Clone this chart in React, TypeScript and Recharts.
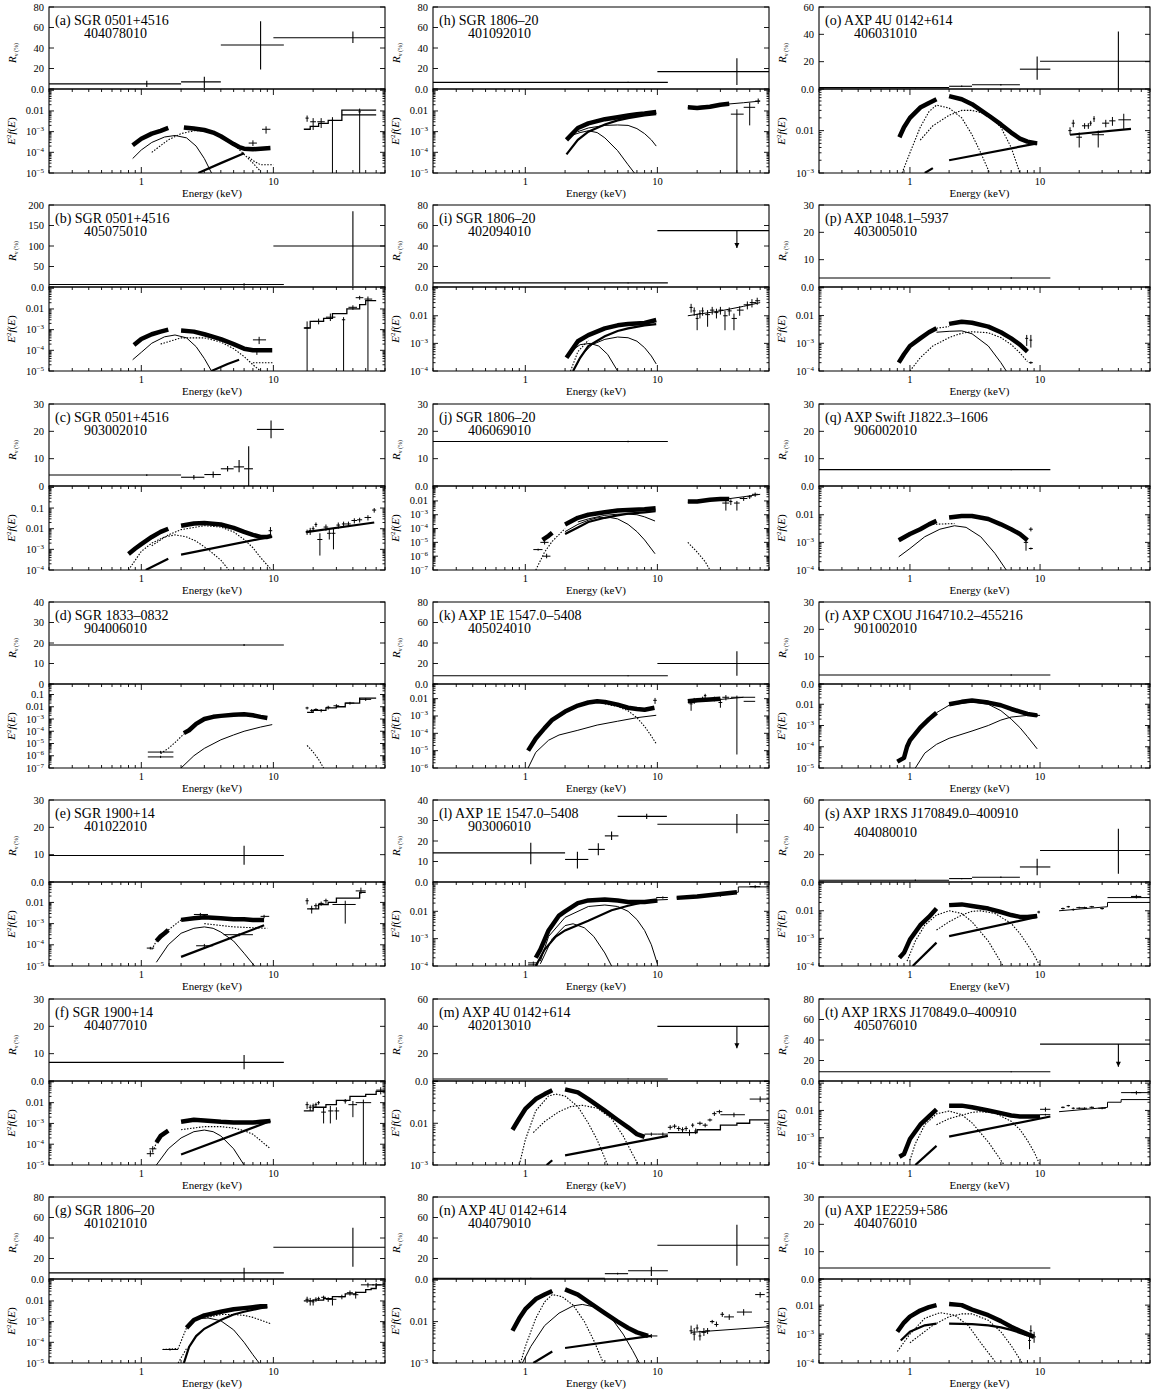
import React from 'react';
import { ComposedChart, Line, Scatter, ErrorBar, XAxis, YAxis, ReferenceArea } from 'recharts';

type Pt = [number, number];
// R_v bins: [Elo, Ehi, E, Rv, RvLo, RvHi]
type Bin = [number, number, number, number, number, number];
// spectral crosses: [E, F, Flo, Fhi, Elo, Ehi]
type Cross = [number, number, number, number, number, number];

const energyTicks = [0.2, 0.3, 0.4, 0.5, 0.6, 0.7, 0.8, 0.9, 1, 2, 3, 4, 5, 6, 7, 8, 9, 10, 20, 30, 40, 50, 60, 70];
const energyLabels = [1, 10];

const panelNames = [
  '(a) SGR 0501+4516', '(b) SGR 0501+4516', '(c) SGR 0501+4516', '(d) SGR 1833–0832',
  '(e) SGR 1900+14', '(f) SGR 1900+14', '(g) SGR 1806–20',
  '(h) SGR 1806–20', '(i) SGR 1806–20', '(j) SGR 1806–20', '(k) AXP 1E 1547.0–5408',
  '(l) AXP 1E 1547.0–5408', '(m) AXP 4U 0142+614', '(n) AXP 4U 0142+614',
  '(o) AXP 4U 0142+614', '(p) AXP 1048.1–5937', '(q) AXP Swift J1822.3–1606',
  '(r) AXP CXOU J164710.2–455216', '(s) AXP 1RXS J170849.0–400910',
  '(t) AXP 1RXS J170849.0–400910', '(u) AXP 1E2259+586',
];
const obsIds = [
  '404078010', '405075010', '903002010', '904006010', '401022010', '404077010', '401021010',
  '401092010', '402094010', '406069010', '405024010', '903006010', '402013010', '404079010',
  '406031010', '403005010', '906002010', '901002010', '404080010', '405076010', '404076010',
];
const obsShift = [0, 0, 0, 0, 0, 0, 0, 0, 0, 0, 0, 0, 0, 0, 0, 0, 0, 0, 6, 0, 0];
const rvMaxes = [80, 200, 30, 40, 30, 30, 80, 80, 80, 30, 80, 40, 60, 80, 60, 30, 30, 30, 60, 80, 30];
const rvSteps = [20, 50, 10, 10, 10, 10, 20, 20, 20, 10, 20, 10, 20, 20, 20, 10, 10, 10, 20, 20, 10];
const rvZero = ['0.0', '0.0', '0', '0', '0.0', '0.0', '0.0', '0.0', '0.0', '0.0', '0.0', '0.0', '0.0', '0.0', '0.0', '0.0', '0.0', '0.0', '0.0', '0.0', '0.0'];
const fluxLows = [1e-5, 1e-5, 1e-4, 1e-7, 1e-5, 1e-5, 1e-5, 1e-5, 1e-4, 1e-7, 1e-6, 1e-4, 1e-3, 1e-3, 1e-3, 1e-4, 1e-4, 1e-5, 1e-4, 1e-4, 1e-4];
const fluxHighs = [0.115, 0.115, 1.17, 0.72, 0.092, 0.11, 0.115, 0.115, 0.11, 0.12, 0.07, 0.118, 0.103, 0.107, 0.096, 0.107, 0.11, 0.09, 0.11, 0.12, 0.08];

// ---- (a)
const rvA: Bin[] = [[0.2, 2, 1.1, 5, 2, 8], [2, 4, 3, 7, 1, 12], [4, 12, 8, 43, 19, 66], [10, 70, 40, 50, 45, 56]];
const xisA: Pt[][] = [
  [[0.86, 2.2e-4], [1, 4.5e-4], [1.2, 8e-4], [1.4, 1.1e-3], [1.6, 1.5e-3]],
  [[2.1, 1.6e-3], [2.5, 1.4e-3], [3, 1.2e-3], [3.5, 9e-4], [4, 6e-4], [4.5, 3.8e-4], [5, 2.5e-4], [5.5, 1.8e-4], [6, 1.5e-4], [7, 1.4e-4], [8, 1.5e-4], [9.5, 1.6e-4]],
];
const crsA: Cross[] = [[7, 2.8e-4, 2e-4, 3.8e-4, 6.5, 7.5], [8.8, 1.3e-3, 8e-4, 1.8e-3, 8.2, 9.5], [18, 4.5e-3, 3e-3, 6e-3, 17.5, 18.5], [20, 3e-3, 1.2e-3, 4.5e-3, 19, 21], [23, 3e-3, 1.5e-3, 4.5e-3, 21.5, 24.5], [28, 3.5e-3, 1e-5, 5e-3, 27.5, 28.5], [45, 9e-3, 1e-5, 1.3e-2, 44, 46]];
const solA: Pt[][] = [[[0.86, 5e-5], [1, 1.3e-4], [1.2, 3e-4], [1.5, 5.5e-4], [1.8, 6.5e-4], [2.2, 5e-4], [2.6, 2e-4], [3, 5e-5], [3.4, 1e-5]]];
const dotA: Pt[][] = [[[1.2, 1e-4], [1.6, 4e-4], [2, 8e-4], [2.5, 1.1e-3], [3, 1.1e-3], [4, 6e-4], [5, 2.5e-4], [6, 8e-5], [7, 3e-5], [8, 1.2e-5]], [[6.5, 6e-5], [7, 4e-5], [8, 2.5e-5], [10, 2.5e-5]]];
const thkA: Pt[][] = [[[2.7, 1e-5], [4, 3e-5], [6, 9e-5]]];
const stpA: Pt[][] = [[[17, 1.3e-3], [19, 1.8e-3], [22, 2.5e-3], [26, 3.5e-3], [33, 1.1e-2], [60, 1.1e-2]], [[33, 6.5e-3], [60, 6.5e-3]]];

// ---- (b)
const rvB: Bin[] = [[0.2, 12, 6, 6, 3, 9], [10, 70, 40, 100, 2, 185]];
const xisB: Pt[][] = [
  [[0.88, 1.8e-4], [1, 3.5e-4], [1.2, 6e-4], [1.4, 8e-4], [1.6, 1e-3]],
  [[2, 9e-4], [2.5, 8e-4], [3, 6e-4], [4, 3.5e-4], [5, 2e-4], [6, 1.2e-4], [7, 1e-4], [8, 1e-4], [9.8, 1e-4]],
];
const crsB: Cross[] = [[7.8, 3.2e-4, 2e-4, 4.5e-4, 7, 8.8], [7.5, 9e-5, 6e-5, 1.2e-4, 7, 8], [18, 1.2e-3, 1e-5, 2.5e-3, 17.3, 18.7], [22, 2.5e-3, 1.8e-3, 3.4e-3, 20, 24], [27, 4e-3, 2.6e-3, 6e-3, 25, 29.5], [34, 3e-3, 1e-5, 4e-3, 33, 35], [40, 1.2e-2, 9e-3, 1.5e-2, 37, 43], [45, 3.5e-2, 2.8e-2, 4.3e-2, 42, 48], [52, 3e-2, 1e-5, 4e-2, 49, 56]];
const solB: Pt[][] = [[[0.86, 3.5e-5], [1, 8e-5], [1.2, 2.2e-4], [1.5, 4.5e-4], [1.8, 5.5e-4], [2.2, 4e-4], [2.6, 1.5e-4], [3, 4e-5], [3.4, 1e-5]]];
const dotB: Pt[][] = [[[1.4, 2e-4], [2, 4e-4], [3, 4e-4], [4, 2.5e-4], [5, 1.2e-4], [6, 5e-5], [7, 2e-5], [8, 1e-5]], [[7, 2.5e-5], [10, 2.5e-5]]];
const thkB: Pt[][] = [[[3.4, 1e-5], [4.5, 2.2e-5], [5.5, 3.5e-5]]];
const stpB: Pt[][] = [[[17, 1.2e-3], [19, 2.5e-3], [24, 3.5e-3], [28, 6e-3], [36, 1e-2], [45, 1.6e-2], [50, 2.5e-2], [60, 2.5e-2]]];

// ---- (c)
const rvC: Bin[] = [[0.2, 2, 1.1, 4, 3.7, 4.3], [2, 3, 2.5, 3.2, 2.4, 4], [3, 4, 3.5, 4.2, 3, 5.3], [4, 5, 4.5, 6.3, 5.3, 7.3], [5, 6, 5.5, 7, 5, 9.5], [6, 7, 6.5, 6.3, 0, 14.5], [7.5, 12, 9.6, 20.7, 17.5, 24]];
const xisC: Pt[][] = [
  [[0.8, 6e-4], [0.9, 1.1e-3], [1, 1.8e-3], [1.2, 4e-3], [1.4, 7e-3], [1.6, 1e-2]],
  [[2, 1.4e-2], [2.5, 1.8e-2], [3, 1.9e-2], [4, 1.6e-2], [5, 1.1e-2], [6, 7e-3], [7, 5e-3], [8, 4e-3], [9, 4e-3], [9.7, 4.5e-3]],
];
const crsC: Cross[] = [[9.5, 8e-3, 4e-3, 1.2e-2, 9.2, 9.8], [18, 7e-3, 5e-3, 9e-3, 17.5, 18.5], [19, 8e-3, 5e-3, 1.1e-2, 18.5, 19.5], [20, 1e-2, 7e-3, 1.3e-2, 19.5, 20.5], [21, 1.6e-2, 1.2e-2, 2e-2, 20.5, 21.5], [22.5, 3e-3, 5e-4, 6e-3, 21.5, 23.5], [25, 1.2e-2, 8e-3, 1.6e-2, 24, 26], [26.5, 6e-3, 3e-3, 1e-2, 25.5, 27.5], [28.5, 6e-3, 1e-3, 1e-2, 27.5, 29.5], [31, 1.5e-2, 1e-2, 2e-2, 30, 32], [34, 1.7e-2, 1.2e-2, 2.2e-2, 33, 35.5], [37, 1.7e-2, 1.2e-2, 2.2e-2, 35.5, 38.5], [41, 2.5e-2, 1.8e-2, 3.2e-2, 39, 43], [45, 2.7e-2, 2e-2, 3.4e-2, 43, 47], [52, 3.5e-2, 2.5e-2, 4.5e-2, 49, 55], [58, 8e-2, 6e-2, 1e-1, 56, 60]];
const dotC: Pt[][] = [
  [[0.8, 1e-4], [1, 8e-4], [1.2, 2e-3], [1.5, 4e-3], [1.8, 5e-3], [2.2, 4e-3], [2.6, 2.5e-3], [3.2, 1e-3], [4, 3e-4], [4.6, 1e-4]],
  [[1.2, 1.5e-3], [1.6, 5e-3], [2, 9e-3], [3, 1.4e-2], [4, 1.2e-2], [5, 7e-3], [6, 3e-3], [7, 1.2e-3], [8, 4e-4], [9.7, 1e-4]],
];
const thkC: Pt[][] = [[[1.08, 1e-4], [1.6, 3.5e-4]], [[2, 5.6e-4], [9.8, 4.2e-3]], [[17.7, 6.8e-3], [58, 2e-2]]];

// ---- (d)
const rvD: Bin[] = [[0.2, 12, 6, 19, 18.5, 19.5]];
const xisD: Pt[][] = [[[2.1, 7e-5], [2.3, 1.2e-4], [2.6, 4e-4], [3, 1e-3], [3.5, 1.5e-3], [4, 1.8e-3], [5, 2.2e-3], [6, 2.4e-3], [7, 2e-3], [8, 1.5e-3], [9, 1.2e-3]]];
const crsD: Cross[] = [[1.4, 2e-6, 1.6e-6, 2.5e-6, 1.12, 1.75], [1.4, 8e-7, 6.5e-7, 1e-6, 1.12, 1.75], [18, 8e-3, 6e-3, 1e-2, 17.5, 18.5], [19.5, 5e-3, 3.5e-3, 6.5e-3, 19, 20], [21, 6e-3, 4.5e-3, 7.5e-3, 20.2, 21.8], [23, 5e-3, 3.5e-3, 6.5e-3, 22, 24], [26, 9e-3, 6e-3, 1.2e-2, 25, 27], [30, 1.2e-2, 8e-3, 1.6e-2, 28.5, 31.5], [38, 2e-2, 1.5e-2, 2.5e-2, 35, 41], [50, 4e-2, 3e-2, 5e-2, 45, 55]];
const solD: Pt[][] = [[[2, 1e-7], [2.5, 1e-6], [3, 4e-6], [4, 2e-5], [5, 5e-5], [6, 1e-4], [8, 2.2e-4], [9.8, 3.5e-4]]];
const dotD: Pt[][] = [[[1.4, 1.5e-6], [1.6, 4e-6], [1.8, 1.2e-5], [2.1, 6e-5]], [[18, 7e-6], [20, 2e-6], [22, 5e-7], [24, 1e-7]]];
const stpD: Pt[][] = [[[18, 3.5e-3], [20, 5e-3], [25, 8e-3], [30, 1e-2], [35, 2e-2], [45, 5e-2], [60, 5e-2]]];

// ---- (e)
const rvE: Bin[] = [[0.2, 12, 6, 9.7, 6.3, 13.3]];
const xisE: Pt[][] = [
  [[1.3, 1.5e-4], [1.4, 2.5e-4], [1.5, 3.5e-4], [1.6, 5e-4]],
  [[2, 1.5e-3], [2.5, 1.8e-3], [3, 2e-3], [4, 1.8e-3], [5, 1.6e-3], [6, 1.6e-3], [7, 1.5e-3], [8.5, 1.5e-3]],
];
const crsE: Cross[] = [[1.17, 7e-5, 6e-5, 8e-5, 1.1, 1.25], [2.8, 2.7e-3, 2.2e-3, 3.2e-3, 2.5, 3.2], [3, 9e-5, 7e-5, 1.1e-4, 2.6, 3.5], [5.5, 3e-4, 2.5e-4, 3.6e-4, 4.2, 7], [8.5, 2.2e-3, 1.8e-3, 2.6e-3, 8, 9.3], [18, 1.2e-2, 8e-3, 1.6e-2, 17.5, 18.5], [19.5, 5e-3, 3e-3, 7e-3, 19, 20], [21, 7e-3, 5e-3, 9e-3, 20.3, 21.7], [23, 9e-3, 7e-3, 1.1e-2, 22, 24], [25, 1.2e-2, 9e-3, 1.5e-2, 24, 26], [35, 8e-3, 1e-3, 1.2e-2, 28, 42], [46, 3.5e-2, 2.5e-2, 5e-2, 42, 50]];
const solE: Pt[][] = [[[1.3, 1.5e-5], [1.6, 1e-4], [2, 3.5e-4], [2.5, 6e-4], [3, 7e-4], [3.5, 6e-4], [4, 4e-4], [5, 1.5e-4], [6, 4e-5], [7.2, 1e-5]]];
const dotE: Pt[][] = [[[1.2, 6e-5], [1.3, 1.5e-4]], [[3, 1e-3], [5, 7e-4], [9, 6e-4]], [[1.6, 5e-4], [2, 1.5e-3]]];
const thkE: Pt[][] = [[[2, 2.7e-5], [8.5, 8.3e-4]]];
const stpE: Pt[][] = [[[18, 5e-3], [22, 8e-3], [26, 1e-2], [30, 1.6e-2], [45, 3e-2], [50, 3e-2]]];

// ---- (f)
const rvF: Bin[] = [[0.2, 12, 6, 6.8, 4.3, 9.5]];
const xisF: Pt[][] = [
  [[1.3, 1.2e-4], [1.4, 2.5e-4], [1.6, 4.5e-4]],
  [[2, 1.2e-3], [2.5, 1.5e-3], [3, 1.4e-3], [4, 1.2e-3], [5, 1.1e-3], [6, 1.1e-3], [7, 1.1e-3], [8, 1.2e-3], [9.5, 1.3e-3]],
];
const crsF: Cross[] = [[1.17, 3.5e-5, 2.5e-5, 5e-5, 1.1, 1.25], [1.22, 6e-5, 4e-5, 8e-5, 1.15, 1.3], [18, 8e-3, 5e-3, 1.1e-2, 17.5, 18.5], [19, 6e-3, 4e-3, 8e-3, 18.5, 19.5], [20, 7e-3, 5e-3, 9e-3, 19.5, 20.5], [21, 8e-3, 6e-3, 1e-2, 20.5, 21.5], [22, 1e-2, 8e-3, 1.2e-2, 21.5, 22.5], [24, 3.5e-3, 1e-3, 6e-3, 23, 25], [27, 4e-3, 1e-3, 7e-3, 26, 28.5], [30, 4e-3, 1.5e-3, 6e-3, 29, 31.5], [35, 1.2e-2, 9e-3, 1.5e-2, 34, 36], [40, 8e-3, 2e-3, 1.2e-2, 37, 43], [48, 1e-2, 1e-5, 1.4e-2, 42, 55], [65, 4e-2, 2.5e-2, 5.5e-2, 60, 70]];
const solF: Pt[][] = [[[1.3, 1e-5], [1.6, 6e-5], [2, 2e-4], [2.5, 4e-4], [3, 4.8e-4], [3.5, 4e-4], [4, 2.5e-4], [5, 6e-5], [6, 1e-5]]];
const dotF: Pt[][] = [[[2, 5e-4], [3, 7e-4], [4, 7e-4], [5, 6e-4], [6, 4.5e-4], [7, 3e-4], [8, 1.5e-4], [9.5, 6e-5]], [[1.25, 6e-5], [1.3, 1.2e-4]]];
const thkF: Pt[][] = [[[2, 3.2e-5], [9.5, 1.3e-3]]];
const stpF: Pt[][] = [[[17, 4e-3], [20, 6e-3], [25, 8e-3], [30, 1.3e-2], [38, 2e-2], [50, 2.5e-2], [60, 3.5e-2], [70, 3.5e-2]]];

// ---- (g)
const rvG: Bin[] = [[0.2, 12, 6, 6, 0.5, 11], [10, 70, 40, 31, 12, 50]];
const xisG: Pt[][] = [[[2.2, 5e-4], [2.5, 1.2e-3], [3, 2e-3], [4, 3e-3], [5, 4e-3], [6, 4.5e-3], [7, 5e-3], [8, 5.5e-3], [9, 5.5e-3]]];
const crsG: Cross[] = [[1.65, 4.5e-5, 4e-5, 5e-5, 1.45, 1.9], [18, 1.2e-2, 8e-3, 1.6e-2, 17.5, 18.5], [19, 1e-2, 6e-3, 1.4e-2, 18.5, 19.5], [20, 9e-3, 6e-3, 1.2e-2, 19.5, 20.5], [21, 1.2e-2, 9e-3, 1.5e-2, 20.5, 21.5], [22, 1.3e-2, 1e-2, 1.6e-2, 21.5, 22.5], [24, 1.5e-2, 1.2e-2, 1.8e-2, 23, 25], [26, 1.2e-2, 9e-3, 1.5e-2, 25, 27], [28, 1.2e-2, 6e-3, 1.6e-2, 26.5, 30], [33, 1.6e-2, 1.2e-2, 2e-2, 31, 35], [38, 2.5e-2, 1.8e-2, 3.2e-2, 36, 40], [42, 2e-2, 1.3e-2, 2.8e-2, 40, 44], [52, 6e-2, 4.5e-2, 7.5e-2, 46, 58], [60, 6e-2, 4.5e-2, 7.5e-2, 56, 65]];
const solG: Pt[][] = [[[2.3, 9e-4], [2.7, 1.4e-3], [3.2, 1.5e-3], [4, 1.1e-3], [5, 4e-4], [6, 1e-4], [7, 2.5e-5], [7.8, 1e-5]]];
const dotG: Pt[][] = [[[1.45, 4.5e-5], [1.9, 5e-5], [2.2, 5e-4]], [[1.9, 1e-5], [2.2, 5e-5]], [[3, 1.5e-3], [4, 2.2e-3], [5, 2.2e-3], [6, 2e-3], [7, 1.6e-3], [8, 1.2e-3], [9.5, 8e-4]]];
const thkG: Pt[][] = [[[2.1, 1e-5], [2.3, 6e-5], [2.6, 2e-4], [3, 4.5e-4], [4, 1.2e-3], [5, 2.2e-3], [6, 3e-3], [8, 4.5e-3], [9, 5e-3]]];
const stpG: Pt[][] = [[[17, 1e-2], [20, 1.1e-2], [24, 1.3e-2], [28, 1.6e-2], [35, 2.2e-2], [42, 2.6e-2], [50, 3.5e-2], [55, 4e-2], [60, 6e-2], [70, 6e-2]]];

// ---- (h)
const rvH: Bin[] = [[0.2, 12, 6, 6.5, 6, 7], [10, 70, 40, 17, 4, 30]];
const xisH: Pt[][] = [
  [[2.05, 4e-4], [2.5, 1.5e-3], [3, 2.5e-3], [4, 4e-3], [5, 5e-3], [6, 6e-3], [7, 7e-3], [8, 7.5e-3], [9.8, 9e-3]],
  [[17, 1.5e-2], [20, 1.4e-2], [25, 1.6e-2], [30, 2e-2], [35, 2.2e-2]],
];
const crsH: Cross[] = [[40, 7e-3, 1e-5, 1.2e-2, 36, 45], [50, 1.5e-2, 2e-3, 2.5e-2, 45, 55], [58, 3e-2, 2.2e-2, 4e-2, 55, 60]];
const solH: Pt[][] = [
  [[2.3, 7e-4], [2.6, 9e-4], [3, 1.1e-3], [3.5, 9e-4], [4, 5e-4], [5, 1.2e-4], [6, 2.5e-5], [6.7, 1e-5]],
  [[2.5, 1e-3], [3, 1.5e-3], [4, 2e-3], [5, 2.1e-3], [6, 2e-3], [7, 1.4e-3], [8, 8e-4], [9, 4e-4], [9.8, 2e-4]],
  [[17, 1.5e-2], [30, 2e-2], [45, 2.5e-2], [60, 3e-2]],
];
const thkH: Pt[][] = [[[2.05, 8e-5], [2.5, 4e-4], [3, 1e-3], [4, 2.2e-3], [5, 3.5e-3], [6, 4.5e-3], [8, 6e-3], [9.8, 7e-3]]];

// ---- (i)
const rvI: Bin[] = [[0.2, 12, 6, 4, 3.5, 4.5], [10, 70, 40, 55, 38, 55]];
const ulI: Pt[] = [[40, 38]];
const xisI: Pt[][] = [[[2.05, 3e-4], [2.5, 1.2e-3], [3, 2e-3], [4, 3.5e-3], [5, 4.5e-3], [6, 5e-3], [8, 5.5e-3], [9.8, 7e-3]]];
const crsI: Cross[] = [[18, 2e-2, 1.3e-2, 2.7e-2, 17.5, 18.5], [19, 1.5e-2, 1e-2, 2e-2, 18.5, 19.5], [20, 8e-3, 3e-3, 1.2e-2, 19.5, 20.5], [21, 1.2e-2, 8e-3, 1.6e-2, 20.5, 21.5], [22, 1.5e-2, 1e-2, 2e-2, 21.5, 22.5], [24, 1.1e-2, 4e-3, 1.6e-2, 23, 25], [26, 1.6e-2, 1.1e-2, 2.1e-2, 25, 27], [28, 1.3e-2, 8e-3, 1.8e-2, 27, 29], [30, 1.6e-2, 1.1e-2, 2.1e-2, 29, 31.5], [32.5, 1e-2, 3e-3, 1.5e-2, 31.5, 34], [35, 1.5e-2, 1e-2, 2e-2, 34, 36.5], [38, 8e-3, 3e-3, 1.2e-2, 36.5, 40], [42, 1.6e-2, 1e-2, 2.2e-2, 40, 45], [48, 2.5e-2, 1.7e-2, 3.3e-2, 45, 51], [52, 3e-2, 2e-2, 4e-2, 50, 56], [57, 3.5e-2, 2.5e-2, 4.5e-2, 55, 60]];
const solI: Pt[][] = [
  [[2.2, 5e-4], [2.6, 9e-4], [3.1, 1e-3], [3.6, 8e-4], [4.2, 4e-4], [5, 1e-4]],
  [[2.3, 1e-4], [2.7, 4e-4], [3.2, 9e-4], [4, 1.4e-3], [5, 1.7e-3], [6, 1.6e-3], [7, 1.2e-3], [8, 7e-4], [9, 3.5e-4], [9.8, 1.8e-4]],
  [[17, 1e-2], [30, 1.5e-2], [45, 2.2e-2], [60, 3e-2]],
];
const dotI: Pt[][] = [[[2.2, 1e-4], [2.5, 5e-4], [3, 1.3e-3]]];
const thkI: Pt[][] = [[[2.3, 1e-4], [2.6, 3e-4], [3, 8e-4], [4, 1.8e-3], [5, 2.8e-3], [6, 3.5e-3], [8, 4.5e-3], [9.8, 5e-3]]];

// ---- (j)
const rvJ: Bin[] = [[0.2, 12, 6, 16.3, 16, 16.6]];
const xisJ: Pt[][] = [
  [[1.35, 1.5e-5], [1.5, 3e-5], [1.6, 5e-5]],
  [[2, 2e-4], [2.5, 6e-4], [3, 1e-3], [4, 1.5e-3], [5, 2e-3], [6, 2.2e-3], [8, 2.5e-3], [9.7, 3e-3]],
  [[17, 9e-3], [20, 9e-3], [25, 1.2e-2], [30, 1.4e-2], [35, 1.4e-2]],
];
const crsJ: Cross[] = [[1.25, 3e-6, 2.5e-6, 3.5e-6, 1.15, 1.35], [1.45, 1e-6, 7e-7, 1.5e-6, 1.35, 1.55], [1.4, 1e-5, 7e-6, 1.4e-5, 1.3, 1.5], [33, 7e-3, 2e-3, 1.2e-2, 31, 35], [36, 9e-3, 5e-3, 1.3e-2, 35, 37], [40, 7e-3, 2e-3, 1e-2, 38, 42], [45, 1.5e-2, 1e-2, 2e-2, 42, 48], [50, 2e-2, 1.4e-2, 2.6e-2, 48, 52], [55, 3e-2, 2e-2, 4e-2, 52, 58]];
const solJ: Pt[][] = [
  [[2, 6e-5], [2.5, 2e-4], [3, 4e-4], [3.5, 6e-4], [4.3, 6.5e-4], [5, 5e-4], [6, 2e-4], [7, 6e-5], [8, 1.5e-5], [9.6, 1.5e-6]],
  [[2.5, 3e-4], [3, 5e-4], [4, 9e-4], [5, 1.1e-3], [6, 1.1e-3], [7, 1e-3], [8, 7e-4], [9.6, 3.5e-4]],
  [[17, 8e-3], [30, 1.2e-2], [45, 2e-2], [60, 3e-2]],
];
const dotJ: Pt[][] = [[[1.2, 1e-7], [1.4, 2e-6], [1.6, 1.2e-5], [2, 1e-4]], [[17, 1e-5], [20, 2e-6], [23, 4e-7], [25, 1e-7]]];
const thkJ: Pt[][] = [[[2, 4e-5], [2.5, 1.2e-4], [3, 3e-4], [4, 6e-4], [5, 9e-4], [6, 1.2e-3], [8, 1.5e-3], [9.7, 1.8e-3]]];

// ---- (k)
const rvK: Bin[] = [[0.2, 12, 6, 8, 7.5, 8.5], [10, 70, 40, 20, 8, 32]];
const xisK: Pt[][] = [
  [[1.05, 1e-5], [1.2, 5e-5], [1.4, 2e-4], [1.6, 6e-4], [2, 1.8e-3], [2.5, 4e-3], [3, 6e-3], [3.5, 7e-3], [4, 6.5e-3], [5, 4.5e-3], [6, 3e-3], [7, 2.5e-3], [8, 2.3e-3], [9.5, 3e-3]],
  [[17, 7e-3], [20, 8e-3], [25, 9e-3], [30, 1e-2]],
];
const crsK: Cross[] = [[9.6, 8e-3, 5e-3, 1.1e-2, 9.3, 9.9], [18, 5e-3, 2e-3, 8e-3, 17.5, 18.5], [19, 8e-3, 5e-3, 1.1e-2, 18.5, 19.5], [22, 1e-2, 7e-3, 1.3e-2, 21.5, 22.5], [23, 1.5e-2, 1.1e-2, 1.9e-2, 22.5, 23.5], [27, 1e-2, 7e-3, 1.3e-2, 26, 28], [30, 6e-3, 3e-3, 1e-2, 29, 31], [33, 1.2e-2, 8e-3, 1.6e-2, 31, 35], [40, 1.2e-2, 6e-6, 1.5e-2, 36, 45]];
const solK: Pt[][] = [
  [[1.05, 1e-6], [1.2, 8e-6], [1.5, 4e-5], [1.8, 8e-5], [2.5, 1.5e-4], [3.5, 3e-4], [5, 5e-4], [7, 8e-4], [9.8, 1.1e-3]],
  [[17, 6e-3], [25, 8e-3], [35, 1e-2], [45, 1.2e-2], [55, 1.2e-2]],
  [[45, 7e-3], [55, 7e-3]],
];
const dotK: Pt[][] = [[[4, 5e-3], [5, 3.5e-3], [6, 2e-3], [7, 8e-4], [8, 2.5e-4], [9, 7e-5], [9.8, 2.5e-5]]];

// ---- (l)
const rvL: Bin[] = [[0.2, 2, 1.1, 14.2, 8.7, 19.2], [2, 3, 2.48, 11, 6.6, 14.7], [3, 4, 3.57, 15.9, 13.1, 18.9], [4, 5.07, 4.5, 22.5, 20.5, 24.6], [5, 11.8, 8.3, 32, 30.7, 33.3], [10, 70, 40, 28.2, 23.8, 33.2]];
const xisL: Pt[][] = [
  [[1.2, 2e-4], [1.3, 4e-4], [1.5, 2e-3], [1.8, 7e-3], [2, 1e-2], [2.5, 2e-2], [3, 2.5e-2], [4, 2.7e-2], [5, 2.5e-2], [6, 2.2e-2], [8, 2.2e-2], [10, 2.5e-2]],
  [[14, 3.1e-2], [20, 3.5e-2], [30, 4.3e-2], [40, 5e-2]],
];
const crsL: Cross[] = [[1.15, 1.3e-4, 1.2e-4, 1.45e-4, 1.05, 1.25], [1.15, 1.1e-4, 1.02e-4, 1.2e-4, 1.05, 1.25], [11, 3.2e-2, 2.9e-2, 3.5e-2, 9.8, 12], [30, 3.8e-2, 3.4e-2, 4.2e-2, 29, 31], [55, 8e-2, 7e-2, 9e-2, 50, 60]];
const solL: Pt[][] = [
  [[1.3, 1.2e-4], [1.6, 1e-3], [2, 3e-3], [2.3, 3.5e-3], [2.8, 2.5e-3], [3.3, 1.2e-3], [4, 3e-4], [4.5, 1e-4]],
  [[1.3, 1.5e-4], [1.5, 1.2e-3], [2, 6e-3], [3, 1.5e-2], [4, 1.7e-2], [5, 1.5e-2], [6, 1e-2], [7, 5e-3], [8, 2e-3], [9, 6e-4], [10, 1.2e-4]],
  [[10, 2.6e-2], [12, 2.7e-2]],
  [[14, 3.1e-2], [20, 3.5e-2], [30, 4.3e-2], [41, 5e-2], [41, 7.8e-2], [70, 7.8e-2]],
];
const thkL: Pt[][] = [[[1.2, 1e-4], [1.4, 4e-4], [1.7, 1.2e-3], [2, 2e-3], [3, 4.5e-3], [4.5, 1.1e-2], [6, 1.6e-2], [8, 2.2e-2], [10, 2.6e-2]]];

// ---- (m)
const rvM: Bin[] = [[0.2, 12, 6, 1.5, 1.2, 1.8], [10, 70, 40, 40, 24, 40]];
const ulM: Pt[] = [[40, 24]];
const xisM: Pt[][] = [
  [[0.8, 7e-3], [0.9, 1.3e-2], [1, 2.2e-2], [1.2, 3.8e-2], [1.4, 5e-2], [1.6, 6.2e-2]],
  [[2, 6.5e-2], [2.5, 5.5e-2], [3, 3.8e-2], [4, 2e-2], [5, 1.2e-2], [6, 8e-3], [7, 5.5e-3], [8, 4.7e-3]],
];
const crsM: Cross[] = [[9, 5.5e-3, 5e-3, 6e-3, 8, 10], [11, 5.5e-3, 5e-3, 6e-3, 10, 12], [12.5, 8e-3, 7e-3, 9e-3, 12, 13], [13.5, 8.5e-3, 7.5e-3, 9.5e-3, 13, 14], [14.5, 7.5e-3, 6.5e-3, 8.5e-3, 14, 15], [15.5, 7e-3, 6e-3, 8e-3, 15, 16], [16.5, 7.5e-3, 6.5e-3, 8.5e-3, 16, 17], [17.5, 6e-3, 5e-3, 7e-3, 17, 18], [18.5, 9e-3, 8e-3, 1e-2, 18, 19], [19.5, 6.5e-3, 5.5e-3, 7.5e-3, 19, 20], [21, 1e-2, 9e-3, 1.1e-2, 20, 22], [23, 9e-3, 8e-3, 1e-2, 22, 24], [25, 1.2e-2, 1.1e-2, 1.3e-2, 24, 26], [27, 1.7e-2, 1.5e-2, 1.9e-2, 26, 28], [29.5, 1.9e-2, 1.7e-2, 2.1e-2, 28, 31], [38, 1.6e-2, 1.4e-2, 1.8e-2, 30, 46], [60, 3.8e-2, 3.2e-2, 4.4e-2, 50, 70]];
const dotM: Pt[][] = [
  [[0.9, 1e-3], [1, 4e-3], [1.2, 2e-2], [1.5, 4.5e-2], [1.7, 5e-2], [2, 4.5e-2], [2.5, 2.5e-2], [3, 1e-2], [3.5, 4e-3], [4.2, 1e-3]],
  [[1.15, 6e-3], [1.4, 1.1e-2], [1.8, 1.9e-2], [2.2, 2.5e-2], [2.7, 2.7e-2], [3.5, 2.3e-2], [4.5, 1.3e-2], [5.5, 5e-3], [6.5, 1.8e-3], [7.2, 1e-3]],
];
const thkM: Pt[][] = [[[1.45, 1e-3], [1.6, 1.3e-3]], [[2, 1.7e-3], [12, 5e-3]]];
const stpM: Pt[][] = [[[12, 6e-3], [20, 7e-3], [30, 9e-3], [40, 1e-2], [50, 1.2e-2], [70, 1.2e-2]]];

// ---- (n)
const rvN: Bin[] = [[0.2, 4, 1.1, 0.8, 0.3, 1.3], [4, 6, 5, 5.2, 4.5, 6], [6, 12, 9, 8, 3, 12], [10, 70, 40, 33, 13, 53]];
const xisN: Pt[][] = [
  [[0.8, 6e-3], [0.9, 1.2e-2], [1, 2e-2], [1.2, 3.5e-2], [1.4, 4.5e-2], [1.6, 5.5e-2]],
  [[2, 6e-2], [2.5, 4.5e-2], [3, 3e-2], [4, 1.6e-2], [5, 1e-2], [6, 7e-3], [7, 5.5e-3], [8.5, 4.5e-3]],
];
const crsN: Cross[] = [[9, 4.5e-3, 4e-3, 5e-3, 8, 10], [18, 6e-3, 5e-3, 8e-3, 17.5, 18.5], [19, 5e-3, 3.5e-3, 7e-3, 18.5, 19.5], [20, 7e-3, 6e-3, 8.5e-3, 19.5, 20.5], [21, 4.5e-3, 3.5e-3, 6e-3, 20.5, 21.5], [22.5, 5.5e-3, 4.5e-3, 7e-3, 21.5, 23.5], [24, 6e-3, 5e-3, 7e-3, 23, 25], [26, 1e-2, 9e-3, 1.1e-2, 25, 27], [28, 8.5e-3, 7.5e-3, 1e-2, 27, 29], [31, 1.5e-2, 1.3e-2, 1.7e-2, 30, 32], [35, 1.3e-2, 1.1e-2, 1.5e-2, 32, 38], [45, 1.7e-2, 1.4e-2, 2e-2, 40, 52], [60, 4.5e-2, 3.8e-2, 5.2e-2, 55, 65]];
const solN: Pt[][] = [
  [[0.95, 1e-3], [1.1, 2.5e-3], [1.4, 8e-3], [1.8, 1.6e-2], [2.3, 2.4e-2], [2.7, 2.6e-2], [3.5, 2.2e-2], [4.5, 1.2e-2], [5.5, 5e-3], [6.5, 2e-3], [7.3, 1e-3]],
  [[18, 5.5e-3], [70, 7.5e-3]],
];
const dotN: Pt[][] = [[[0.92, 1e-3], [1, 2.5e-3], [1.2, 1.2e-2], [1.4, 3e-2], [1.6, 4.5e-2], [1.9, 4e-2], [2.3, 2.5e-2], [2.8, 1e-2], [3.3, 3.5e-3], [3.9, 1e-3]]];
const thkN: Pt[][] = [[[1.15, 1e-3], [1.6, 1.9e-3]], [[2, 2.3e-3], [9, 4.5e-3]]];

// ---- (o)
const rvO: Bin[] = [[0.2, 2, 1.1, 1, 0.5, 1.5], [2, 3, 2.5, 2, 1.5, 2.5], [3, 7, 5, 3.1, 2.5, 3.7], [7, 12, 9.5, 14.5, 6.8, 23.7], [10, 70, 40, 20.3, 0, 42]];
const xisO: Pt[][] = [
  [[0.83, 7e-3], [0.9, 1.2e-2], [1, 2e-2], [1.2, 3.5e-2], [1.4, 4.5e-2], [1.6, 5.5e-2]],
  [[2, 6.5e-2], [2.5, 5.5e-2], [3, 4.2e-2], [4, 2.3e-2], [5, 1.4e-2], [6, 9e-3], [7, 6.5e-3], [8, 5.5e-3], [9.5, 5e-3]],
];
const crsO: Cross[] = [[17, 1e-2, 8e-3, 1.2e-2, 16.5, 17.5], [18, 1.5e-2, 1.2e-2, 1.8e-2, 17.5, 18.5], [20, 7e-3, 4e-3, 9e-3, 19, 21], [22, 1.3e-2, 1.1e-2, 1.5e-2, 21, 23], [23.5, 1.3e-2, 1.1e-2, 1.5e-2, 23, 24], [24.5, 1.5e-2, 1.3e-2, 1.7e-2, 24, 25], [26, 1.9e-2, 1.6e-2, 2.2e-2, 25.5, 26.5], [28, 8e-3, 4e-3, 1e-2, 25, 31], [32, 1.5e-2, 1.2e-2, 1.8e-2, 30, 34], [36, 1.7e-2, 1.3e-2, 2.1e-2, 34, 38], [44, 1.8e-2, 1.1e-2, 2.5e-2, 40, 50]];
const dotO: Pt[][] = [
  [[0.87, 1e-3], [1, 3e-3], [1.2, 1.2e-2], [1.4, 2.8e-2], [1.6, 4e-2], [2, 3.4e-2], [2.5, 2e-2], [3, 8e-3], [3.5, 3e-3], [4.1, 1e-3]],
  [[1.2, 6e-3], [1.5, 1.3e-2], [2, 2.3e-2], [2.5, 3e-2], [3, 3e-2], [4, 2.4e-2], [5, 1.2e-2], [6, 4e-3], [7, 1e-3]],
];
const thkO: Pt[][] = [[[1.3, 1e-3], [1.5, 1.3e-3]], [[2, 2e-3], [9.5, 5e-3]], [[17, 8e-3], [50, 1.1e-2]]];

// ---- (p)
const rvP: Bin[] = [[0.2, 12, 6, 3.3, 3, 3.6]];
const xisP: Pt[][] = [
  [[0.82, 2e-4], [0.9, 4e-4], [1, 8e-4], [1.2, 1.5e-3], [1.4, 2.5e-3], [1.6, 3.5e-3]],
  [[2, 5e-3], [2.5, 6e-3], [3, 5.5e-3], [4, 4e-3], [5, 2.5e-3], [6, 1.5e-3], [7, 9e-4], [8, 5e-4]],
];
const crsP: Cross[] = [[7.9, 1.5e-3, 8e-4, 2e-3, 7.7, 8.1], [8.5, 1.3e-3, 7e-4, 2e-3, 8.3, 8.7], [8.5, 2e-4, 1.8e-4, 2.2e-4, 8.2, 8.8]];
const solP: Pt[][] = [[[1.6, 2.5e-3], [2, 2.7e-3], [2.5, 2.8e-3], [3, 2.2e-3], [4, 8e-4], [5, 2e-4], [5.5, 1e-4]]];
const dotP: Pt[][] = [[[1, 1e-4], [1.2, 3e-4], [1.5, 8e-4], [2, 1.6e-3], [2.5, 2.3e-3], [3, 2.6e-3], [4, 2.4e-3], [5, 1.6e-3], [6, 9e-4], [7, 4.5e-4], [8, 2.2e-4]], [[1.6, 3.5e-3], [2, 4e-3]]];

// ---- (q)
const rvQ: Bin[] = [[0.2, 12, 6, 6, 5.8, 6.2]];
const xisQ: Pt[][] = [
  [[0.82, 1.2e-3], [1, 2e-3], [1.2, 3e-3], [1.4, 4.5e-3], [1.6, 6e-3]],
  [[2, 8e-3], [2.5, 9e-3], [3, 9e-3], [4, 7e-3], [5, 4.5e-3], [6, 3e-3], [7, 2e-3], [8, 1.2e-3]],
];
const crsQ: Cross[] = [[8.5, 3e-3, 2.5e-3, 3.5e-3, 8.2, 8.8], [7.8, 1e-3, 5e-4, 1.5e-3, 7.5, 8.1], [8.5, 6e-4, 5.5e-4, 6.5e-4, 8.2, 8.8]];
const solQ: Pt[][] = [[[0.82, 3e-4], [1, 6e-4], [1.3, 1.6e-3], [1.7, 3e-3], [2.2, 4e-3], [2.7, 3.5e-3], [3.5, 1.6e-3], [4.5, 4e-4], [5.5, 1e-4]]];
const dotQ: Pt[][] = [[[1.5, 4.5e-3], [2.2, 4.8e-3]]];

// ---- (r)
const rvR: Bin[] = [[0.2, 12, 6, 3.3, 3, 3.6]];
const xisR: Pt[][] = [
  [[0.8, 2e-5], [0.9, 3e-5], [0.95, 1e-4], [1, 2e-4], [1.2, 8e-4], [1.4, 2e-3], [1.6, 4e-3]],
  [[2, 1e-2], [2.5, 1.3e-2], [3, 1.5e-2], [4, 1.2e-2], [5, 9e-3], [6, 6e-3], [7, 4.5e-3], [8, 3.5e-3], [9.5, 3e-3]],
];
const crsR: Cross[] = [[9.5, 3e-3, 2.5e-3, 3.5e-3, 9, 10]];
const solR: Pt[][] = [
  [[1.6, 4e-3], [2, 9e-3], [3, 1.3e-2], [4, 1e-2], [5, 5e-3], [6, 2e-3], [7, 8e-4], [8, 3e-4], [9.5, 8e-5]],
  [[1.1, 1e-5], [1.3, 5e-5], [1.6, 1.3e-4], [2, 2.5e-4], [3, 5.5e-4], [4, 1e-3], [5, 1.8e-3], [6, 2.5e-3], [8, 3e-3], [9.5, 3e-3]],
];

// ---- (s)
const rvS: Bin[] = [[0.2, 2, 1.1, 1.3, 0.8, 1.8], [2, 3, 2.5, 2.5, 2, 3], [3, 7, 5, 3.5, 3, 4], [7, 12, 9.5, 11, 5, 17], [10, 70, 40, 23, 6, 39]];
const xisS: Pt[][] = [
  [[0.83, 2e-4], [0.9, 3e-4], [1, 9e-4], [1.2, 3e-3], [1.4, 6e-3], [1.6, 1.2e-2]],
  [[2, 1.6e-2], [2.5, 1.7e-2], [3, 1.5e-2], [4, 1.2e-2], [5, 9e-3], [6, 7e-3], [7, 6e-3], [8, 6e-3], [9.5, 6.5e-3]],
];
const crsS: Cross[] = [[9.8, 9e-3, 8e-3, 1e-2, 9.5, 10], [15, 1.2e-2, 1.1e-2, 1.3e-2, 14.5, 15.5], [16.5, 1.4e-2, 1.3e-2, 1.5e-2, 16, 17], [18, 1.1e-2, 1e-2, 1.2e-2, 17.5, 18.5], [20, 1.3e-2, 1.2e-2, 1.4e-2, 19, 21], [22, 1.3e-2, 1.2e-2, 1.4e-2, 21, 23], [25, 1.4e-2, 1.3e-2, 1.5e-2, 24, 26], [30, 1.2e-2, 1.1e-2, 1.3e-2, 29, 31], [55, 3.3e-2, 2.8e-2, 3.8e-2, 50, 60]];
const solS: Pt[][] = [[[14, 1e-2], [33, 1.4e-2], [33, 2e-2], [70, 2e-2]], [[33, 3e-2], [70, 3e-2]]];
const dotS: Pt[][] = [
  [[0.95, 1.5e-4], [1.1, 8e-4], [1.3, 3e-3], [1.6, 7e-3], [2, 1e-2], [2.5, 8e-3], [3, 4e-3], [4, 8e-4], [5.2, 1e-4]],
  [[1.6, 2e-3], [2, 4e-3], [2.5, 7e-3], [3, 9.5e-3], [3.5, 1e-2], [4.5, 8e-3], [6, 3.5e-3], [7, 1.5e-3], [8, 6e-4], [9, 2.5e-4], [10, 1e-4]],
];
const thkS: Pt[][] = [[[1.05, 1e-4], [1.6, 7e-4]], [[2, 1.2e-3], [9.5, 6e-3]]];

// ---- (t)
const rvT: Bin[] = [[0.2, 12, 6, 9, 8.5, 9.5], [10, 70, 40, 36, 14, 36]];
const ulT: Pt[] = [[40, 14]];
const xisT: Pt[][] = [
  [[0.83, 2e-4], [0.9, 2.5e-4], [1, 9e-4], [1.2, 3e-3], [1.4, 6e-3], [1.6, 1.1e-2]],
  [[2, 1.5e-2], [2.5, 1.5e-2], [3, 1.3e-2], [4, 1e-2], [5, 8e-3], [6, 6.5e-3], [7, 6e-3], [8, 6e-3], [10, 6e-3]],
];
const crsT: Cross[] = [[11, 1.1e-2, 9e-3, 1.3e-2, 10, 12], [11, 7e-3, 6.5e-3, 7.5e-3, 10, 12], [15, 1.3e-2, 1.2e-2, 1.4e-2, 14.5, 15.5], [16.5, 1.5e-2, 1.4e-2, 1.6e-2, 16, 17], [18, 1.2e-2, 1.1e-2, 1.3e-2, 17.5, 18.5], [20, 1.2e-2, 1.1e-2, 1.3e-2, 19, 21], [22, 1.2e-2, 1.1e-2, 1.3e-2, 21, 23], [25, 1.3e-2, 1.2e-2, 1.4e-2, 24, 26], [30, 1.2e-2, 1.1e-2, 1.3e-2, 28, 32], [55, 4.5e-2, 3.8e-2, 5.2e-2, 50, 60]];
const solT: Pt[][] = [[[14, 9e-3], [33, 1.3e-2], [33, 2e-2], [42, 2e-2], [42, 2.5e-2], [70, 2.5e-2]], [[42, 4.5e-2], [70, 4.5e-2]]];
const dotT: Pt[][] = [
  [[1, 1.5e-4], [1.1, 6e-4], [1.3, 3e-3], [1.6, 7.5e-3], [2, 9.5e-3], [2.5, 7e-3], [3, 3.5e-3], [4, 7e-4], [5.3, 1e-4]],
  [[1.6, 3e-3], [2, 5e-3], [3, 8.5e-3], [3.5, 9e-3], [4.5, 8e-3], [6, 4e-3], [7, 2e-3], [8, 8e-4], [9, 3e-4], [10, 1e-4]],
];
const thkT: Pt[][] = [[[1.1, 1e-4], [1.6, 5e-4]], [[2, 1.1e-3], [12, 6e-3]]];

// ---- (u)
const rvU: Bin[] = [[0.2, 12, 6, 4, 4, 4]];
const xisU: Pt[][] = [
  [[0.8, 1.2e-3], [0.9, 2.5e-3], [1, 4e-3], [1.2, 6.5e-3], [1.4, 8.5e-3], [1.6, 1e-2]],
  [[2, 1.1e-2], [2.5, 1e-2], [3, 7e-3], [4, 4.5e-3], [5, 2.8e-3], [6, 1.8e-3], [7, 1.3e-3], [8, 1e-3], [9, 8e-4]],
];
const crsU: Cross[] = [[8.5, 1.3e-3, 8e-4, 2e-3, 8.3, 8.7], [9, 8e-4, 5e-4, 1.2e-3, 8.7, 9.3], [8.3, 6e-4, 3e-4, 1e-3, 8.1, 8.5]];
const dotU: Pt[][] = [
  [[0.8, 2.5e-4], [1, 1e-3], [1.3, 3.5e-3], [1.7, 5.5e-3], [2.2, 4.5e-3], [2.8, 2e-3], [3.5, 5e-4], [4.6, 1e-4]],
  [[1, 5e-4], [1.5, 2e-3], [2, 4e-3], [2.5, 5e-3], [3, 5e-3], [4, 3e-3], [5, 1.2e-3], [6, 4e-4], [7.3, 1e-4]],
];
const thkU: Pt[][] = [[[0.85, 6e-4], [1, 1.2e-3], [1.3, 2e-3], [1.6, 2.3e-3]], [[2, 2.3e-3], [3, 2.2e-3], [4, 2e-3], [5, 1.7e-3], [6, 1.4e-3], [7, 1.1e-3], [8, 9e-4]]];

const none: Pt[][] = [];
const rvBins = [rvA, rvB, rvC, rvD, rvE, rvF, rvG, rvH, rvI, rvJ, rvK, rvL, rvM, rvN, rvO, rvP, rvQ, rvR, rvS, rvT, rvU];
const upperLimits: Pt[][] = [[], [], [], [], [], [], [], [], ulI, [], [], [], ulM, [], [], [], [], [], [], ulT, []];
const xisBands = [xisA, xisB, xisC, xisD, xisE, xisF, xisG, xisH, xisI, xisJ, xisK, xisL, xisM, xisN, xisO, xisP, xisQ, xisR, xisS, xisT, xisU];
const crossData = [crsA, crsB, crsC, crsD, crsE, crsF, crsG, crsH, crsI, crsJ, crsK, crsL, crsM, crsN, crsO, crsP, crsQ, crsR, crsS, crsT, crsU];
const solidCurves = [solA, solB, none, solD, solE, solF, solG, solH, solI, solJ, solK, solL, none, solN, none, solP, solQ, solR, solS, solT, none];
const dottedCurves = [dotA, dotB, dotC, dotD, dotE, dotF, dotG, none, dotI, dotJ, dotK, none, dotM, dotN, dotO, dotP, dotQ, none, dotS, dotT, dotU];
const thickCurves = [thkA, thkB, thkC, none, thkE, thkF, thkG, thkH, thkI, thkJ, none, thkL, thkM, thkN, thkO, none, none, none, thkS, thkT, thkU];
const stepCurves = [stpA, stpB, none, stpD, stpE, stpF, stpG, none, none, none, none, none, stpM, none, none, none, none, none, none, none, none];

const FONT = '"Liberation Serif", "Times New Roman", Times, serif';
const COL_LEFT = [49, 433, 819];
const COL_W = [336, 336, 331];
const ROW_TOP = 7;
const ROW_STEP = 198.3;
const TOP_H = 82;
const BOT_H = 84;
const AX_W = 46;
const PAD = 8;

const pts = (a: Pt[]) => a.map(([x, y]) => ({ x, y }));
const binPts = (a: Bin[]) => a.map(([lo, hi, x, y, yl, yh]) => ({ x, y, ex: [x - lo, hi - x], ey: [y - yl, yh - y] }));
const crossPts = (a: Cross[]) => a.map(([x, y, yl, yh, xl, xh]) => ({ x, y, ex: [x - xl, xh - x], ey: [y - yl, yh - y] }));

const Empty = () => <g />;
const Arrow = (p: any) => (
  <path d={`M${p.cx - 2.5},${p.cy - 5} L${p.cx + 2.5},${p.cy - 5} L${p.cx},${p.cy} Z`} fill="#000" />
);

function XTick(props: any) {
  const { x, y, payload, h, showLabels } = props;
  const v = payload.value;
  const major = energyLabels.includes(v);
  const len = major ? 6 : 3;
  return (
    <g>
      <line x1={x} y1={y} x2={x} y2={y - len} stroke="#000" strokeWidth={0.9} />
      <line x1={x} y1={y - h} x2={x} y2={y - h + len} stroke="#000" strokeWidth={0.9} />
      {showLabels && major && (
        <text x={x} y={y + 12} textAnchor="middle" fontSize={10.5} fontFamily={FONT} fill="#000">{v}</text>
      )}
    </g>
  );
}

function YTick(props: any) {
  const { x, y, w, len, label } = props;
  return (
    <g>
      <line x1={x} y1={y} x2={x + len} y2={y} stroke="#000" strokeWidth={0.9} />
      <line x1={x + w} y1={y} x2={x + w - len} y2={y} stroke="#000" strokeWidth={0.9} />
      {label}
    </g>
  );
}

function fluxLabel(v: number, x: number, y: number) {
  const k = Math.round(Math.log10(v));
  const common = { x: x - 5, y: y + 3.5, textAnchor: 'end' as const, fontSize: 10.5, fontFamily: FONT, fill: '#000' };
  if (k === 0) return <text {...common}>1</text>;
  if (k === -1) return <text {...common}>0.1</text>;
  if (k === -2) return <text {...common}>0.01</text>;
  return (
    <text {...common}>
      10<tspan fontSize={7} dy={-4}>{'\u2212' + -k}</tspan>
    </text>
  );
}

function Panel({ i }: { i: number }) {
  const col = Math.floor(i / 7);
  const row = i % 7;
  const left = COL_LEFT[col];
  const pw = COL_W[col];
  const top = Math.round(ROW_TOP + row * ROW_STEP);
  const rvMax = rvMaxes[i];
  const rvTicks: number[] = [];
  for (let v = 0; v <= rvMax + 1e-9; v += rvSteps[i]) rvTicks.push(v);
  const lo = fluxLows[i];
  const hi = fluxHighs[i];
  const kLo = Math.round(Math.log10(lo));
  const kHi = Math.floor(Math.log10(hi));
  const fTicks: number[] = [];
  for (let k = kLo; k <= kHi; k++) {
    for (let m = 1; m <= 9; m++) {
      const v = m * Math.pow(10, k);
      if (v <= hi * 1.0001) fTicks.push(v);
    }
  }
  const span = Math.log10(hi) - Math.log10(lo);

  const rvTick = (p: any) => {
    const v = p.payload.value;
    return (
      <YTick x={p.x} y={p.y} w={pw} len={5} label={
        <text x={p.x - 5} y={p.y + 3.5} textAnchor="end" fontSize={10.5} fontFamily={FONT} fill="#000">
          {v === 0 ? rvZero[i] : v}
        </text>
      } />
    );
  };
  const fTick = (p: any) => {
    const v = p.payload.value;
    const lg = Math.log10(v);
    const major = Math.abs(lg - Math.round(lg)) < 1e-6;
    const fromTop = ((Math.log10(hi) - lg) / span) * BOT_H;
    return (
      <YTick x={p.x} y={p.y} w={pw} len={major ? 5 : 2.5}
        label={major && fromTop > 4 ? fluxLabel(v, p.x, p.y) : null} />
    );
  };

  const lineProps = { dataKey: 'y', dot: false, isAnimationActive: false, stroke: '#000', legendType: 'none' as const };

  return (
    <>
      <div style={{ position: 'absolute', left: left - AX_W, top: top - PAD }}>
        <ComposedChart width={AX_W + pw + PAD} height={PAD + TOP_H + PAD} margin={{ top: PAD, right: PAD, bottom: PAD, left: 0 }}>
          <XAxis dataKey="x" type="number" scale="log" domain={[0.2, 70]} allowDataOverflow ticks={energyTicks}
            interval={0} tickSize={0} tickMargin={0} axisLine={false} tickLine={false} height={0}
            tick={(p: any) => <XTick {...p} h={TOP_H} showLabels={false} />} />
          <YAxis dataKey="y" type="number" domain={[0, rvMax]} allowDataOverflow ticks={rvTicks}
            interval={0} tickSize={0} tickMargin={0} axisLine={false} tickLine={false} width={AX_W} tick={rvTick} />
          <ReferenceArea x1={0.2} x2={70} y1={0} y2={rvMax} fill="none" stroke="#000" strokeWidth={1.1} ifOverflow="visible" />
          <Scatter data={binPts(rvBins[i])} shape={Empty} isAnimationActive={false} legendType="none">
            <ErrorBar dataKey="ex" direction="x" width={0} stroke="#000" strokeWidth={1.1} />
            <ErrorBar dataKey="ey" direction="y" width={0} stroke="#000" strokeWidth={1.1} />
          </Scatter>
          {upperLimits[i].length > 0 && (
            <Scatter data={pts(upperLimits[i])} shape={Arrow} isAnimationActive={false} legendType="none" />
          )}
        </ComposedChart>
      </div>
      <div style={{ position: 'absolute', left: left - AX_W, top: top + TOP_H - PAD }}>
        <ComposedChart width={AX_W + pw + PAD} height={PAD + BOT_H + 30} margin={{ top: PAD, right: PAD, bottom: 0, left: 0 }}>
          <XAxis dataKey="x" type="number" scale="log" domain={[0.2, 70]} allowDataOverflow ticks={energyTicks}
            interval={0} tickSize={0} tickMargin={0} axisLine={false} tickLine={false} height={30}
            tick={(p: any) => <XTick {...p} h={BOT_H} showLabels />} />
          <YAxis dataKey="y" type="number" scale="log" domain={[lo, hi]} allowDataOverflow ticks={fTicks}
            interval={0} tickSize={0} tickMargin={0} axisLine={false} tickLine={false} width={AX_W} tick={fTick} />
          <ReferenceArea x1={0.2} x2={70} y1={lo} y2={hi} fill="none" stroke="#000" strokeWidth={1.1} ifOverflow="visible" />
          {xisBands[i].map((s, k) => (
            <Line key={'x' + k} data={pts(s)} {...lineProps} strokeWidth={4.5} strokeLinejoin="round" />
          ))}
          {solidCurves[i].map((s, k) => (
            <Line key={'s' + k} data={pts(s)} {...lineProps} strokeWidth={1} />
          ))}
          {dottedCurves[i].map((s, k) => (
            <Line key={'d' + k} data={pts(s)} {...lineProps} strokeWidth={1.1} strokeDasharray="1.5 1.5" />
          ))}
          {thickCurves[i].map((s, k) => (
            <Line key={'t' + k} data={pts(s)} {...lineProps} strokeWidth={2.2} />
          ))}
          {stepCurves[i].map((s, k) => (
            <Line key={'p' + k} data={pts(s)} {...lineProps} type="stepAfter" strokeWidth={1.3} />
          ))}
          <Scatter data={crossPts(crossData[i])} shape={Empty} isAnimationActive={false} legendType="none">
            <ErrorBar dataKey="ex" direction="x" width={0} stroke="#000" strokeWidth={1} />
            <ErrorBar dataKey="ey" direction="y" width={0} stroke="#000" strokeWidth={1} />
          </Scatter>
        </ComposedChart>
      </div>
      <div style={{ position: 'absolute', left: left + 6, top: top + 7, fontFamily: FONT, fontSize: 14, lineHeight: '13px', whiteSpace: 'nowrap' }}>
        {panelNames[i]}
      </div>
      <div style={{ position: 'absolute', left: left + 35, top: top + 20 + obsShift[i], fontFamily: FONT, fontSize: 14, lineHeight: '13px' }}>
        {obsIds[i]}
      </div>
      <div style={{ position: 'absolute', left: left - 37, top: top + 46, transform: 'translate(-50%, -50%) rotate(-90deg)', fontFamily: FONT, fontSize: 11, whiteSpace: 'nowrap' }}>
        <i>R</i><span style={{ fontSize: 6, verticalAlign: -2 }}>ν (%)</span>
      </div>
      <div style={{ position: 'absolute', left: left - 38, top: top + TOP_H + 42, transform: 'translate(-50%, -50%) rotate(-90deg)', fontFamily: FONT, fontSize: 11, whiteSpace: 'nowrap' }}>
        <i>E</i><sup style={{ fontSize: 7 }}>2</sup><i>f</i>(<i>E</i>)
      </div>
      <div style={{ position: 'absolute', left: left + pw / 2 - 5, top: top + 186, transform: 'translate(-50%, -50%)', fontFamily: FONT, fontSize: 11, whiteSpace: 'nowrap' }}>
        Energy (keV)
      </div>
    </>
  );
}

export default function App() {
  return (
    <div style={{ position: 'absolute', left: 0, top: 0, width: 1153, height: 1392, background: '#fff', overflow: 'hidden' }}>
      {panelNames.map((_, i) => (
        <Panel key={i} i={i} />
      ))}
    </div>
  );
}
